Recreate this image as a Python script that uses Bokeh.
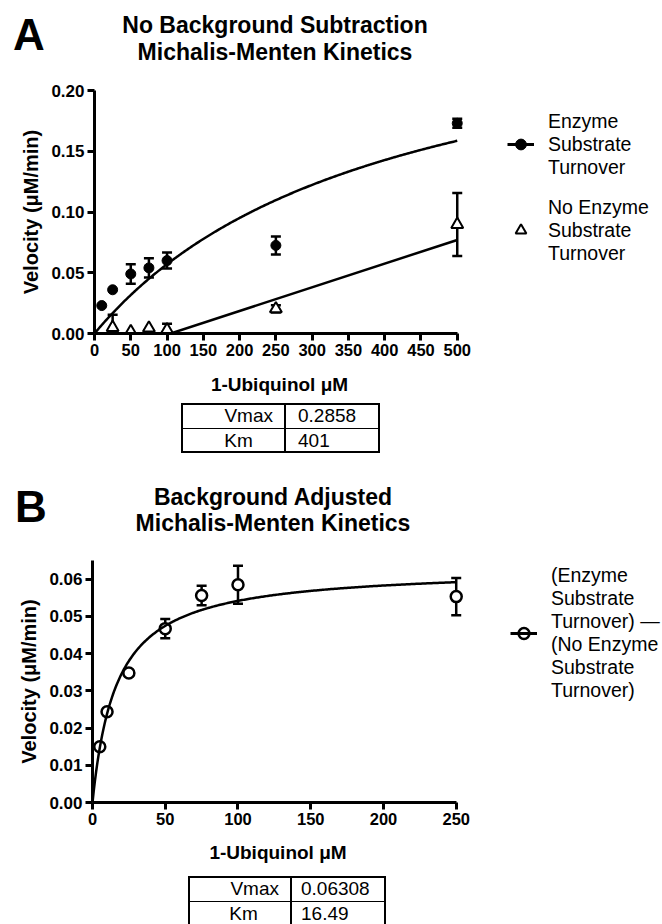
import numpy as np
from bokeh.plotting import figure
from bokeh.models import (Range1d, FixedTicker, PrintfTickFormatter, Whisker, TeeHead,
                          ColumnDataSource, Legend, LegendItem, Div)
from bokeh.layouts import column, row
from bokeh.embed import file_html
from bokeh.resources import INLINE

# ---------------- Panel A data ----------------
conc_a = [10, 25, 50, 75, 100, 250, 500]
enz_vel = [0.023, 0.036, 0.049, 0.054, 0.060, 0.0725, 0.173]
enz_err = [0.0, 0.0, 0.008, 0.008, 0.0066, 0.0074, 0.0037]
noenz_conc = [25, 50, 75, 100, 250, 500]
noenz_vel = [0.005, 0.0016, 0.0044, 0.003, 0.0203, 0.0897]
noenz_err = [0.0105, 0.0, 0.0, 0.005, 0.003, 0.026]
noenz_fit_x = [105, 500]
noenz_fit_y = [0.0, 0.077]
vmax_a = "0.2858"
km_a = "401"
xticks_a = [0, 50, 100, 150, 200, 250, 300, 350, 400, 450, 500]
yticks_a = [0.0, 0.05, 0.10, 0.15, 0.20]

# ---------------- Panel B data ----------------
conc_b = [5, 10, 25, 50, 75, 100, 250]
adj_vel = [0.0150, 0.0244, 0.0348, 0.0467, 0.0556, 0.0585, 0.0553]
adj_err = [0.0, 0.0, 0.0, 0.0026, 0.0026, 0.0051, 0.0050]
vmax_b = "0.06308"
km_b = "16.49"
xticks_b = [0, 50, 100, 150, 200, 250]
yticks_b = [0.0, 0.01, 0.02, 0.03, 0.04, 0.05, 0.06]

legend_a = ["Enzyme\nSubstrate\nTurnover", "No Enzyme\nSubstrate\nTurnover"]
legend_b = "(Enzyme\nSubstrate\nTurnover) \u2014\n(No Enzyme\nSubstrate\nTurnover)"

FONT = "Liberation Sans"
W = 662
PH = 332          # height of each plot figure
MARG_A = 19       # legend margin inside legend figure A
MARG_B = 3        # legend margin inside legend figure B
PW_A = 507 - MARG_A
PW_B = 510 - MARG_B


def mm(vmax, km, xmax):
    xs = np.linspace(0, xmax, 300)
    return xs, float(vmax) * xs / (float(km) + xs)


def style(p, xticks, yticks, xb, yb, xstand):
    p.outline_line_color = None
    p.xgrid.visible = False
    p.ygrid.visible = False
    for ax in (p.xaxis[0], p.yaxis[0]):
        ax.axis_line_width = 3
        ax.major_tick_line_width = 3
        ax.major_tick_out = 7
        ax.major_tick_in = 0
        ax.minor_tick_line_color = None
        ax.major_label_text_font = FONT
        ax.major_label_text_font_style = "bold"
        ax.major_label_text_color = "black"
        ax.axis_label_text_font = FONT
        ax.axis_label_text_font_style = "bold"
        ax.axis_label_text_color = "black"
        ax.major_label_standoff = 3
    p.xaxis[0].major_label_text_font_size = "16.5px"
    p.yaxis[0].major_label_text_font_size = "17px"
    p.xaxis[0].axis_label_text_font_size = "19px"
    p.yaxis[0].axis_label_text_font_size = "20px"
    p.xaxis[0].ticker = FixedTicker(ticks=xticks)
    p.yaxis[0].ticker = FixedTicker(ticks=yticks)
    p.yaxis[0].formatter = PrintfTickFormatter(format="%.2f")
    p.xaxis[0].bounds = xb
    p.yaxis[0].bounds = yb
    p.xaxis[0].axis_label_standoff = xstand
    p.yaxis[0].axis_label_standoff = 6


def whisker_src(xs, ys, es):
    bx, up, lo = [], [], []
    for x, y, e in zip(xs, ys, es):
        if e > 0:
            bx.append(x)
            up.append(y + e)
            lo.append(max(y - e, 0.0))
    return ColumnDataSource(dict(base=bx, upper=up, lower=lo))


def add_whisker(p, src):
    w = Whisker(base="base", upper="upper", lower="lower", source=src, line_width=2.5,
                line_color="black", level="underlay",
                upper_head=TeeHead(size=10, line_width=2.5, line_color="black"),
                lower_head=TeeHead(size=10, line_width=2.5, line_color="black"))
    p.add_layout(w)


def span(text, left, baseline, size, bold=False, width=None, align="left"):
    top = baseline - 0.8465 * size
    w = f"width:{width}px;" if width is not None else ""
    return (f"<div style='position:absolute;left:{left}px;top:{top:.1f}px;{w}"
            f"text-align:{align};font-family:\"{FONT}\";font-size:{size}px;line-height:1;"
            f"font-weight:{'bold' if bold else 'normal'};color:black;white-space:nowrap'>{text}</div>")


def header_div(letter, lx, lbase, t1, t2, cx, b1, b2, height):
    html = (f"<div style='position:relative;width:{W}px;height:{height}px;overflow:hidden'>"
            + span(letter, lx, lbase, 44, bold=True)
            + span(t1, 0, b1, 23, bold=True, width=2 * cx, align="center")
            + span(t2, 0, b2, 23, bold=True, width=2 * cx, align="center")
            + "</div>")
    return Div(text=html, width=W, height=height, margin=0)


def table_div(height, left, right, top, vdiv, rows, name_right, km_center, val_left, rowh=25):
    (n1, v1), (n2, v2) = rows
    tw = right - left
    parts = [f"<div style='position:relative;width:{W}px;height:{height}px;overflow:hidden'>"]
    parts.append(f"<div style='position:absolute;left:{left}px;top:{top}px;width:{tw}px;"
                 f"height:{2 * rowh}px;border:2px solid black;box-sizing:border-box'></div>")
    parts.append(f"<div style='position:absolute;left:{vdiv - 1}px;top:{top}px;width:2px;"
                 f"height:{2 * rowh}px;background:black'></div>")
    parts.append(f"<div style='position:absolute;left:{left}px;top:{top + rowh}px;width:{tw}px;"
                 f"height:1px;background:black'></div>")
    cell = (f"font-family:\"{FONT}\";font-size:19px;color:black;height:{rowh}px;"
            f"line-height:{rowh}px;white-space:nowrap;position:absolute;")
    parts.append(f"<div style='{cell}left:{left}px;top:{top}px;width:{name_right - left}px;"
                 f"text-align:right'>{n1}</div>")
    parts.append(f"<div style='{cell}left:{km_center - 40}px;top:{top + rowh}px;width:80px;"
                 f"text-align:center'>{n2}</div>")
    parts.append(f"<div style='{cell}left:{val_left}px;top:{top}px;'>{v1}</div>")
    parts.append(f"<div style='{cell}left:{val_left}px;top:{top + rowh}px;'>{v2}</div>")
    parts.append("</div>")
    return Div(text="".join(parts), width=W, height=height, margin=0)


def legend_fig(width):
    f = figure(width=width, height=PH, x_range=Range1d(0, 1), y_range=Range1d(0, 1),
               x_axis_type=None, y_axis_type=None, output_backend="svg", toolbar_location=None,
               min_border_left=0, min_border_right=0, min_border_top=0, min_border_bottom=0)
    f.outline_line_color = None
    f.xgrid.visible = False
    f.ygrid.visible = False
    return f


def make_legend(items, margin, gh, spacing):
    return Legend(items=items, location="top_left", glyph_width=27, glyph_height=gh,
                  label_standoff=14, spacing=spacing, padding=0, margin=margin,
                  border_line_color=None, background_fill_alpha=0,
                  label_text_font=FONT, label_text_font_size="19.5px",
                  label_text_color="black")


NAN = [float("nan")]   # legend-key renderers hold no visible point

# ================= Panel A =================
headA = header_div("A", 13, 50, "No Background Subtraction", "Michalis-Menten Kinetics",
                   275, 33.3, 60, 68)

pA = figure(width=PW_A, height=PH, x_range=Range1d(0, 510), y_range=Range1d(0, 0.20),
            output_backend="svg", toolbar_location=None,
            min_border_left=94, min_border_right=PW_A - 94 - 370, min_border_top=22,
            min_border_bottom=67,
            x_axis_label="1-Ubiquinol \u03bcM", y_axis_label="Velocity (\u03bcM/min)")
style(pA, xticks_a, yticks_a, (0, 500), (0, 0.20), 15)

add_whisker(pA, whisker_src(conc_a, enz_vel, enz_err))
add_whisker(pA, whisker_src(noenz_conc, noenz_vel, noenz_err))
fxa, fya = mm(vmax_a, km_a, 500)
pA.line(fxa, fya, line_color="black", line_width=2.5)
pA.line(noenz_fit_x, noenz_fit_y, line_color="black", line_width=2.5)
pA.scatter(conc_a, enz_vel, marker="circle", size=10, fill_color="black", line_color="black")
pA.scatter(noenz_conc, noenz_vel, marker="triangle", size=12, fill_color="white",
           line_color="black", line_width=2)

lfA = legend_fig(W - PW_A)
kA_line = lfA.line(NAN, NAN, line_color="black", line_width=3)
kA_circ = lfA.scatter(NAN, NAN, marker="circle", fill_color="black", line_color="black")
kA_tri = lfA.scatter(NAN, NAN, marker="triangle", fill_color="white", line_color="black",
                     line_width=2)
lfA.add_layout(make_legend([LegendItem(label=legend_a[0], renderers=[kA_line, kA_circ]),
                            LegendItem(label=legend_a[1], renderers=[kA_tri])],
                           MARG_A, 70, 16))

tabA = table_div(68, 181, 380, 3, 285, [("Vmax", vmax_a), ("Km", km_a)], 273, 238.5, 298)

# ================= Panel B =================
headB = header_div("B", 15, 53.7, "Background Adjusted", "Michalis-Menten Kinetics",
                   273, 37, 63.7, 68)

pB = figure(width=PW_B, height=PH, x_range=Range1d(0, 255), y_range=Range1d(0, 0.065),
            output_backend="svg", toolbar_location=None,
            min_border_left=92, min_border_right=PW_B - 92 - 371, min_border_top=24,
            min_border_bottom=66,
            x_axis_label="1-Ubiquinol \u03bcM", y_axis_label="Velocity (\u03bcM/min)")
style(pB, xticks_b, yticks_b, (0, 250), (0, 0.065), 14)

add_whisker(pB, whisker_src(conc_b, adj_vel, adj_err))
pB.scatter(conc_b, adj_vel, marker="circle", size=11, fill_color="white",
           line_color="black", line_width=2.5)
fxb, fyb = mm(vmax_b, km_b, 250)
pB.line(fxb, fyb, line_color="black", line_width=2.5)

lfB = legend_fig(W - PW_B)
kB_circ = lfB.scatter(NAN, NAN, marker="circle", fill_color="white", line_color="black",
                      line_width=2.5)
kB_line = lfB.line(NAN, NAN, line_color="black", line_width=3)
lfB.add_layout(make_legend([LegendItem(label=legend_b, renderers=[kB_circ, kB_line])],
                           MARG_B, 140, 0))

tabB = table_div(56, 188, 386, 8, 291, [("Vmax", vmax_b), ("Km", km_b)], 279, 243.5, 301)

layout = column(headA, row(pA, lfA), tabA, headB, row(pB, lfB), tabB)
open("out.html", "w").write(file_html(layout, INLINE))
